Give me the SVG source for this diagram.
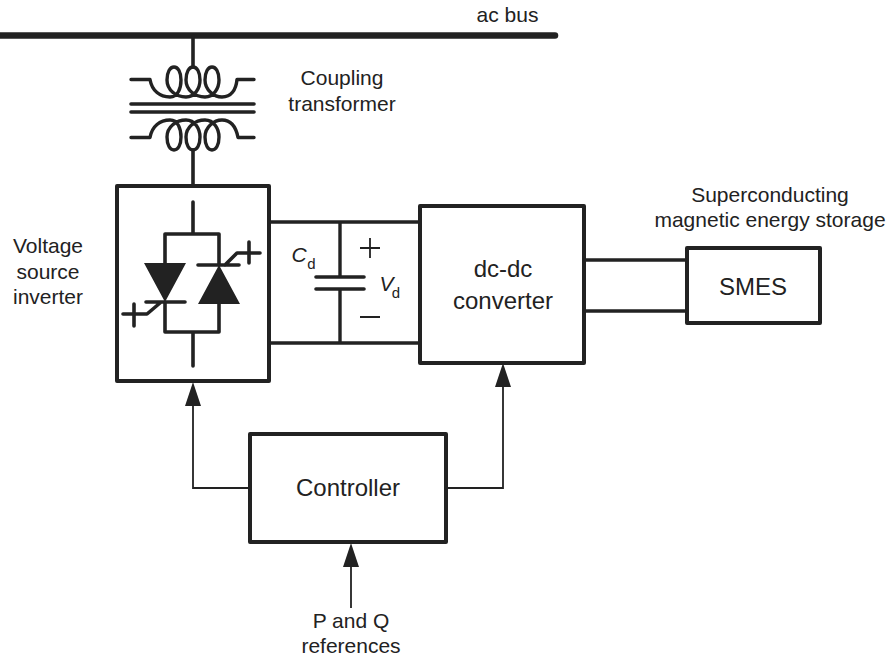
<svg xmlns="http://www.w3.org/2000/svg" width="889" height="658" viewBox="0 0 889 658">
<style>
text{font-family:"Liberation Sans",Arial,sans-serif;fill:#222;font-size:21px;text-anchor:middle}
.big{font-size:24px}
.i{font-style:italic;font-size:21px}
.sub{font-size:15px}
.box{fill:none;stroke:#222;stroke-width:4;stroke-linejoin:round}
.w{fill:none;stroke:#222;stroke-width:3.6;stroke-linecap:round;stroke-linejoin:round}
.b{fill:none;stroke:#222;stroke-width:3.4}
.t{fill:none;stroke:#222;stroke-width:1.8}
.f{fill:#222}
.coil{fill:none;stroke:#222;stroke-width:3.4;stroke-linecap:round;stroke-linejoin:round}
</style>
<g id="ac-bus"><path d="M0 35.500H555" stroke="#222" stroke-width="6.500" stroke-linecap="round"/><text x="507.500" y="22">ac bus</text></g>
<g id="coupling-transformer">
<path class="coil" d="M131 79.500H150C152 91 160 97 170 97C178 97 181 88 181 80C181 72 178 67 174 67C170 67 167 72 167 80C167 90 176 97 186 97C195 97 200 88 200 80C200 72 197 67 193 67C189 67 186 72 186 80C186 90 195 97 205 97C214 97 219 88 219 80C219 72 216 67 212 67C208 67 205 72 205 80C205 90 214 97 222 97C231 97 236 90 237 79.500H254"/>
<path class="coil" d="M131 137.500H150C152 126 160 120 170 120C178 120 181 129 181 137C181 145 178 150 174 150C170 150 167 145 167 137C167 127 176 120 186 120C195 120 200 129 200 137C200 145 197 150 193 150C189 150 186 145 186 137C186 127 195 120 205 120C214 120 219 129 219 137C219 145 216 150 212 150C208 150 205 145 205 137C205 127 214 120 222 120C231 120 236 127 238 137.500H254"/>
<path class="w" d="M131 104H254M131 112H254"/>
<path class="w" d="M193 36V67M193 150V186"/>
<text x="342" y="85">Coupling</text><text x="342" y="111">transformer</text>
</g>
<g id="voltage-source-inverter">
<rect class="box" x="117" y="186" width="152" height="195"/>
<path class="w" d="M193 202V234M193 332V366M165 234H219V265M165 234V264M165 302V332H219V304"/>
<path class="f" d="M144 263H186L165 302ZM198 304H240L219 265Z"/>
<path class="w" d="M198 265H239M146 302H185M225 265L237 253H260M249 242V263M160 303L147 314H123M134 304V326"/>
<text x="48" y="253">Voltage</text><text x="48" y="279">source</text><text x="48" y="304">inverter</text>
</g>
<g id="capacitor">
<path class="b" d="M269 222H420M269 343H420M340 222V277M340 289V343"/>
<path class="w" d="M316 277H364M316 289H364"/>
<path class="t" d="M360 248H380M370 238V258M360 317H380"/>
<text class="i" x="299" y="262">C</text><text class="sub" x="311.500" y="269">d</text>
<text class="i" x="386.500" y="291">V</text><text class="sub" x="396" y="298">d</text>
</g>
<g id="dc-dc-converter"><rect class="box" x="420" y="206" width="164" height="157"/><text class="big" x="503" y="277">dc-dc</text><text class="big" x="503" y="309">converter</text></g>
<g id="smes"><rect class="box" x="687" y="248" width="133" height="75"/><text class="big" x="753" y="295">SMES</text>
<text x="770" y="202">Superconducting</text><text x="770" y="227">magnetic energy storage</text></g>
<g id="controller"><rect class="box" x="250" y="434" width="196" height="108"/><text class="big" x="348" y="496">Controller</text></g>
<g id="p-q-references"><text x="351" y="628">P and Q</text><text x="351" y="653">references</text></g>
<g id="connectors">
<path class="b" d="M584 260H687M584 311H687"/>
<path class="t" d="M250 488H193V405M446 488H503V385M351 567V608"/>
<path class="f" d="M185 406L193 382L201 406ZM495 387L503 363L511 387ZM343 567L351 543L359 567Z"/>
</g>
</svg>
